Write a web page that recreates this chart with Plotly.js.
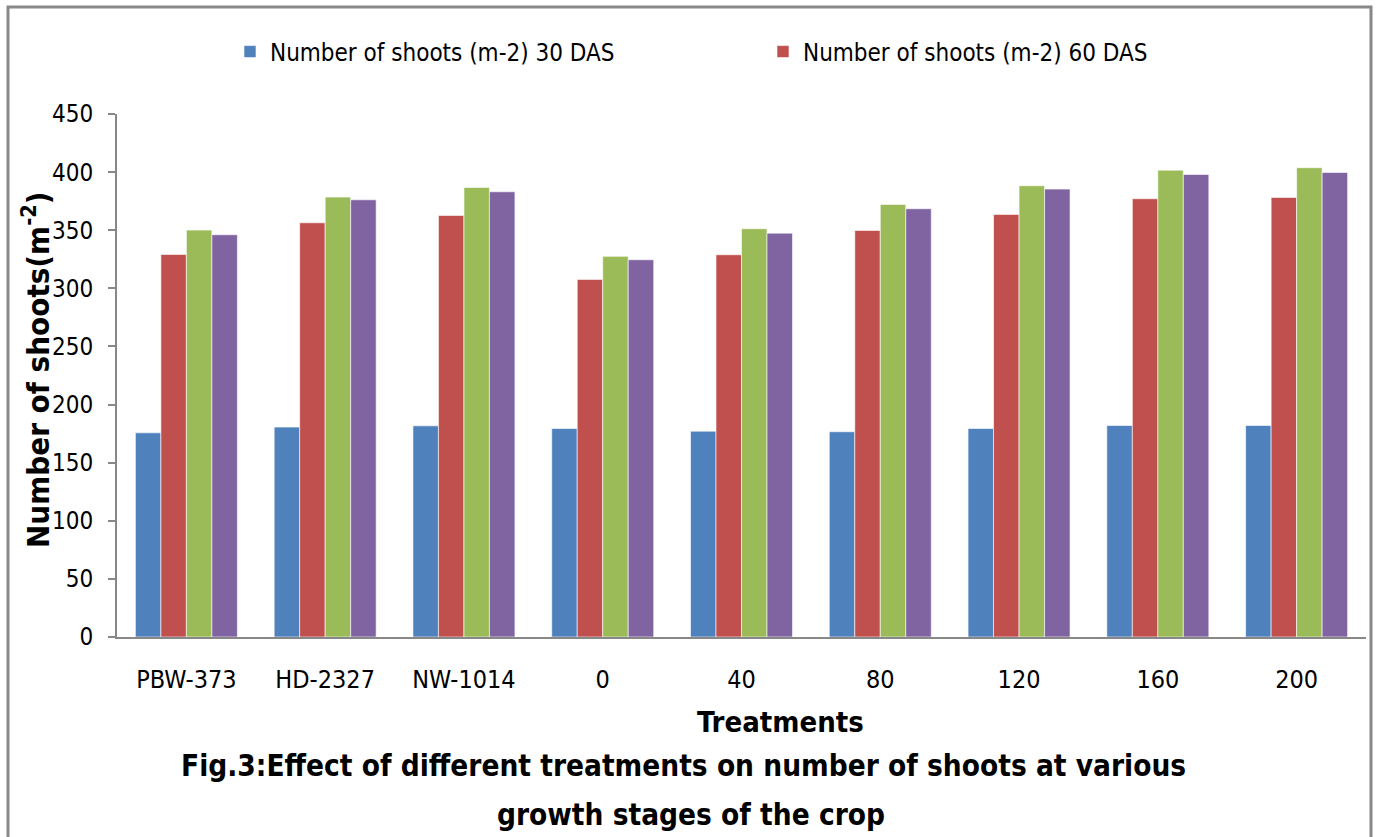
<!DOCTYPE html>
<html>
<head>
<meta charset="utf-8">
<script src="https://cdn.plot.ly/plotly-3.0.1.min.js"></script>
<style>
html,body{margin:0;padding:0;background:#fff;}
#chart{width:1380px;height:837px;}
</style>
</head>
<body>
<div id="chart"></div>
<script>
const categories = ["PBW-373", "HD-2327", "NW-1014", "0", "40", "80", "120", "160", "200"];
const shoots30 = [175.7, 180.6, 181.7, 179.4, 177.1, 176.6, 179.4, 182.0, 182.0];
const shoots60 = [329.2, 356.4, 362.7, 307.7, 328.9, 349.8, 363.6, 377.1, 378.2];
const shoots90 = [350.1, 378.5, 386.8, 327.5, 351.3, 372.2, 388.3, 401.7, 403.8];
const shootsHarvest = [346.1, 376.2, 383.1, 324.6, 347.5, 368.5, 385.4, 398.0, 399.7];
const seriesNames = ["Number of shoots (m-2) 30 DAS", "Number of shoots (m-2) 60 DAS", "Number of shoots (m-2) 90 DAS", "Number of shoots (m-2) at harvest"];
const yTicks = [0, 50, 100, 150, 200, 250, 300, 350, 400, 450];

const FONT = "'DejaVu Sans Condensed', 'Liberation Sans Narrow', sans-serif";
const colors = ["#4F81BD", "#C0504D", "#9BBB59", "#8064A2"];
const values = [shoots30, shoots60, shoots90, shootsHarvest];

const traces = values.map((v, i) => ({
  type: "bar",
  name: seriesNames[i],
  x: categories,
  y: v,
  marker: {color: colors[i], line: {color: "rgba(255,255,255,0.6)", width: 1}},
  showlegend: i < 2,
  hoverinfo: "x+y+name"
}));

const L = 117, R = 1366, T = 114, B = 637;
const W = R - L, H = B - T;
const px = x => (x - L) / W;
const py = y => (B - y) / H;

const layout = {
  width: 1380, height: 837,
  margin: {l: L, r: 1380 - R, t: T, b: 837 - B},
  paper_bgcolor: "#fff",
  plot_bgcolor: "#fff",
  font: {family: FONT, color: "#000", size: 22},
  barmode: "group",
  bargap: 0.265,
  bargroupgap: 0,
  showlegend: true,
  legend: {
    orientation: "h",
    x: px(230), xanchor: "left",
    y: py(52), yanchor: "middle",
    font: {family: FONT, size: 24, color: "#000"},
    entrywidth: 488, entrywidthmode: "pixels",
    itemclick: false, itemdoubleclick: false,
    bgcolor: "rgba(0,0,0,0)"
  },
  xaxis: {
    type: "category",
    showline: true, linecolor: "#888", linewidth: 2,
    ticks: "", showgrid: false, zeroline: false,
    tickfont: {family: FONT, size: 25, color: "#000"},
    ticklabelstandoff: 19
  },
  yaxis: {
    range: [0, 450],
    tickvals: yTicks,
    ticktext: yTicks.map(String),
    showline: true, linecolor: "#888", linewidth: 2,
    ticks: "outside", ticklen: 7, tickcolor: "#888", tickwidth: 2,
    ticklabelstandoff: 10,
    showgrid: false, zeroline: false,
    tickfont: {family: FONT, size: 24, color: "#000"}
  },
  annotations: [
    {text: "<b>Number of shoots(m<sup>-2</sup>)</b>", xref: "paper", yref: "paper",
     x: px(36), y: py(370), textangle: -90, showarrow: false,
     font: {family: FONT, size: 31, color: "#000"}, xanchor: "center", yanchor: "middle"},
    {text: "<b>Treatments</b>", xref: "paper", yref: "paper",
     x: px(780), y: py(722), showarrow: false,
     font: {family: FONT, size: 29, color: "#000"}, xanchor: "center", yanchor: "middle"},
    {text: "<b>Fig.3:Effect of different treatments on number of shoots at various</b>", xref: "paper", yref: "paper",
     x: px(683), y: py(766), showarrow: false,
     font: {family: FONT, size: 29.5, color: "#000"}, xanchor: "center", yanchor: "middle"},
    {text: "<b>growth stages of the crop</b>", xref: "paper", yref: "paper",
     x: px(691), y: py(815), showarrow: false,
     font: {family: FONT, size: 29.5, color: "#000"}, xanchor: "center", yanchor: "middle"}
  ],
  shapes: [
    {type: "rect", xref: "paper", yref: "paper",
     x0: px(8), x1: px(1371), y0: py(900), y1: py(7),
     line: {color: "#888", width: 3}, fillcolor: "rgba(0,0,0,0)", layer: "below"}
  ]
};

Plotly.newPlot("chart", traces, layout, {displayModeBar: false});
</script>
</body>
</html>
